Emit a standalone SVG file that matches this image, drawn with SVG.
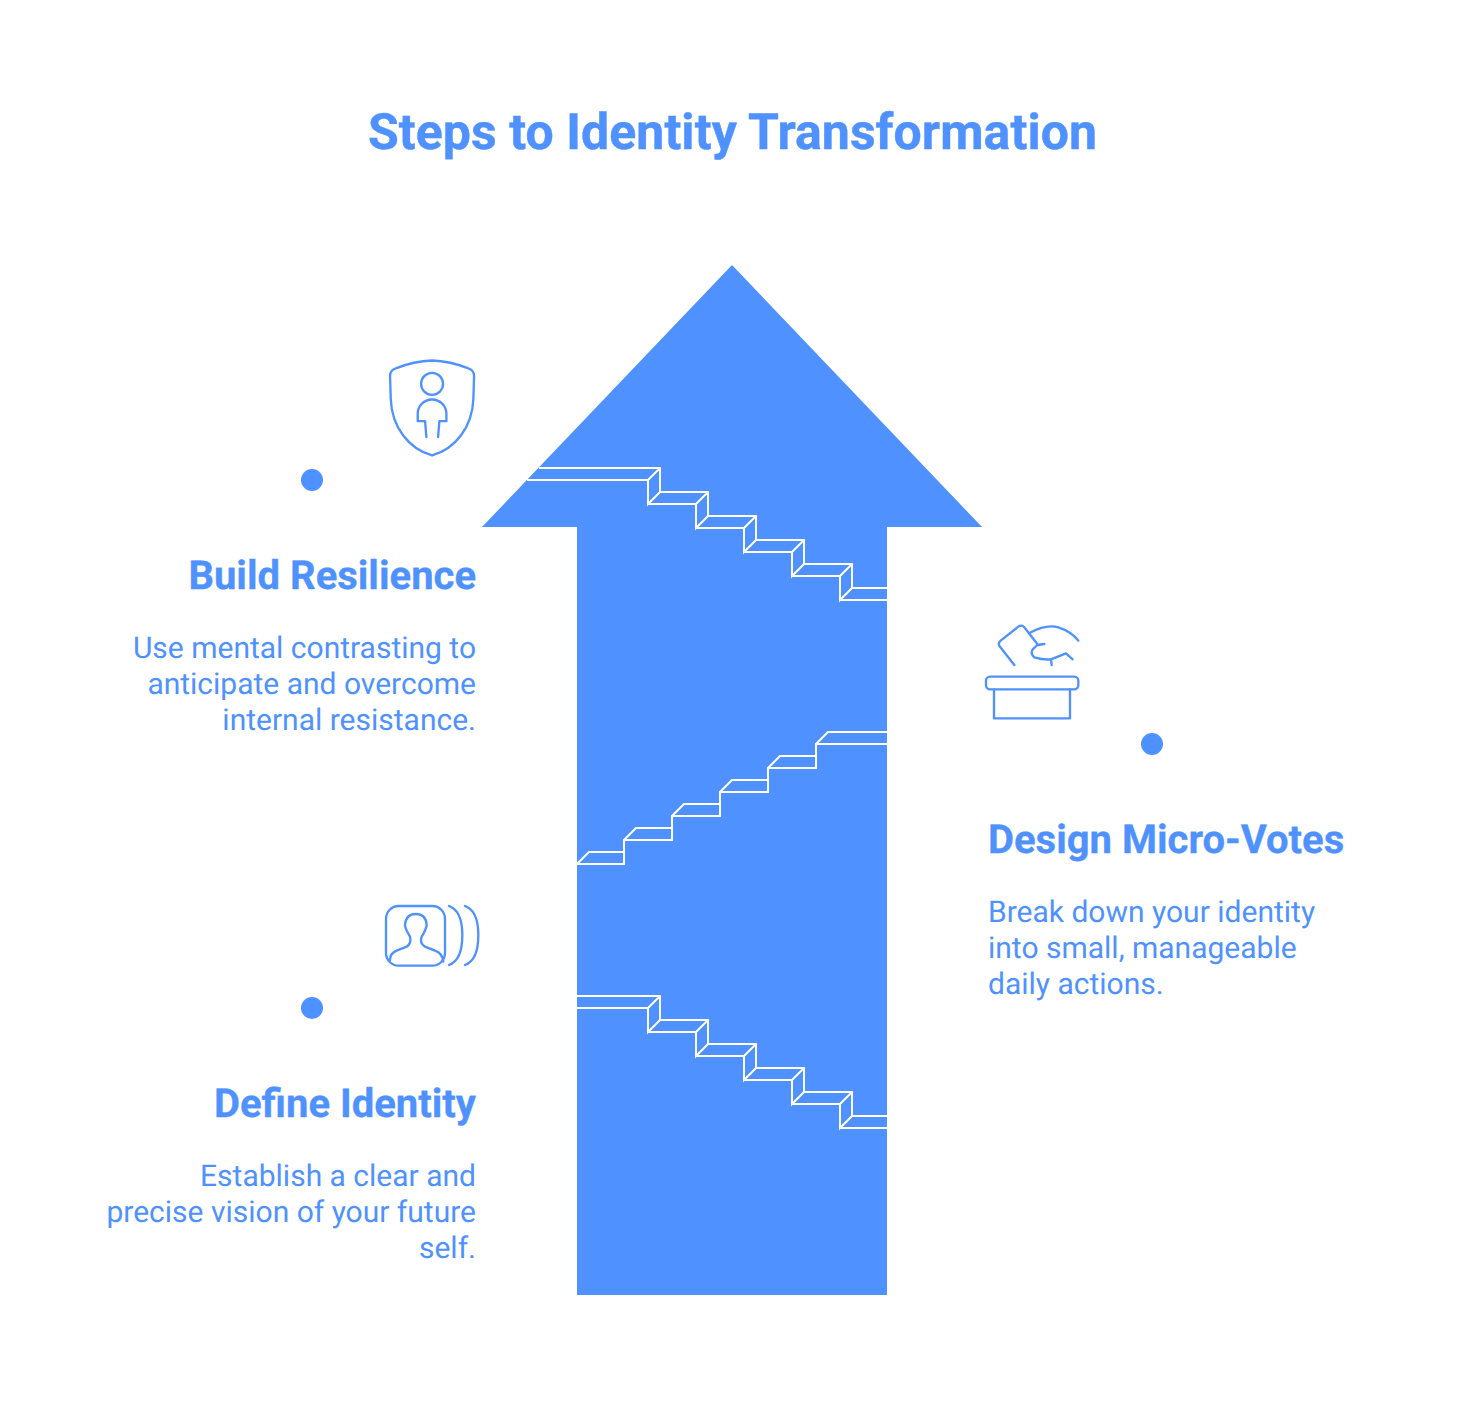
<svg xmlns="http://www.w3.org/2000/svg" width="1464" height="1416" viewBox="0 0 1464 1416">
<style>
text{font-family:Roboto,"Liberation Sans",sans-serif;fill:#4f92ff;text-rendering:geometricPrecision}
.t{font-size:50px;font-weight:700;text-anchor:middle;letter-spacing:.06px;stroke:#4f92ff;stroke-width:.4px}
.h{font-size:40px;font-weight:700;stroke:#4f92ff;stroke-width:.3px}
.d{font-size:30px;font-weight:400}
.e{text-anchor:end}
.s{fill:none;stroke:#fff;stroke-width:2}
.i{fill:none;stroke:#4f92ff;stroke-width:7;stroke-linecap:round;stroke-linejoin:round}
.p{fill:#4f92ff}
</style>
<rect width="1464" height="1416" fill="#fff"/>
<text class="t" x="732.5" y="149">Steps to Identity Transformation</text>
<g id="arrow">
<path class="p" d="M732 265L982 527H887V1295H577V527H482Z"/>
<path id="stairs-top" class="s" d="M539 468H660V492H708V516H756V540H804V564H852V588H887M527 480H648V504H696V528H744V552H792V576H840V600H887M648 480L660 468M648 480V504L660 492M696 504L708 492M696 504V528L708 516M744 528L756 516M744 528V552L756 540M792 552L804 540M792 552V576L804 564M840 576L852 564M840 576V600L852 588"/>
<path id="stairs-middle" class="s" d="M577 864H624V840H672V816H720V792H768V768H816V744H887M577 864L589 852H624M624 840L636 828H672M672 816L684 804H720M720 792L732 780H768M768 768L780 756H816M816 744L828 732H887"/>
<path id="stairs-bottom" class="s" d="M577 996H660V1020H708V1044H756V1068H804V1092H852V1116H887M577 1008H648V1032H696V1056H744V1080H792V1104H840V1128H887M648 1008L660 996M648 1008V1032L660 1020M696 1032L708 1020M696 1032V1056L708 1044M744 1056L756 1044M744 1056V1080L756 1068M792 1080L804 1068M792 1080V1104L804 1092M840 1104L852 1092M840 1104V1128L852 1116"/>
</g>
<g id="build-resilience">
<circle class="p" cx="312" cy="480" r="11"/>
<g transform="translate(380.4 355.5) scale(.3333)" class="i">
<path d="M155 15Q210 17 262 38Q282 44 281 62L279 130C276 215 225 280 155 300C85 280 34 215 31 130L29 62Q28 44 48 38Q100 17 155 15Z"/>
<circle cx="155" cy="85" r="33"/>
<path d="M138 245L134 197H112V175A43 43 0 0 1 198 175V197H177L173 245"/>
</g>
<text class="h e" x="476" y="589">Build Resilience</text>
<text class="d e" x="476" y="658">Use mental contrasting to</text>
<text class="d e" x="476" y="694">anticipate and overcome</text>
<text class="d e" x="476" y="730">internal resistance.</text>
</g>
<g id="design-micro-votes">
<circle class="p" cx="1152" cy="744" r="11"/>
<g transform="translate(980 620) scale(.3333)" class="i">
<path d="M103 135L60 80Q52 70 62 62L115 20Q125 13 133 22L172 72"/>
<path d="M150 38Q200 12 235 22Q275 35 295 62"/>
<path d="M193 72L172 75L158 88Q150 100 163 112Q190 120 213 118L258 100L278 118M213 118L215 135"/>
<rect x="18" y="170" width="277" height="38" rx="12"/>
<path d="M42 208V295H270V208"/>
</g>
<text class="h" x="988" y="853">Design Micro-Votes</text>
<text class="d" x="988" y="922">Break down your identity</text>
<text class="d" x="988" y="958">into small, manageable</text>
<text class="d" x="988" y="994">daily actions.</text>
</g>
<g id="define-identity">
<circle class="p" cx="312" cy="1008" r="11"/>
<g transform="translate(380 900) scale(.3333)" class="i">
<rect x="18" y="18" width="177" height="179" rx="38"/>
<path d="M30 180Q30 160 50 152L80 140Q95 130 90 110Q75 85 75 75Q78 42 107 42Q138 42 140 75Q138 90 125 110Q118 130 135 140L165 152Q188 160 190 185"/>
<path d="M207 18C235 28 247 60 247 105C247 150 235 185 207 195M255 18C283 28 295 60 295 105C295 150 283 185 255 195"/>
</g>
<text class="h e" x="476" y="1117">Define Identity</text>
<text class="d e" x="476" y="1186">Establish a clear and</text>
<text class="d e" x="476" y="1222">precise vision of your future</text>
<text class="d e" x="476" y="1258">self.</text>
</g>
</svg>
